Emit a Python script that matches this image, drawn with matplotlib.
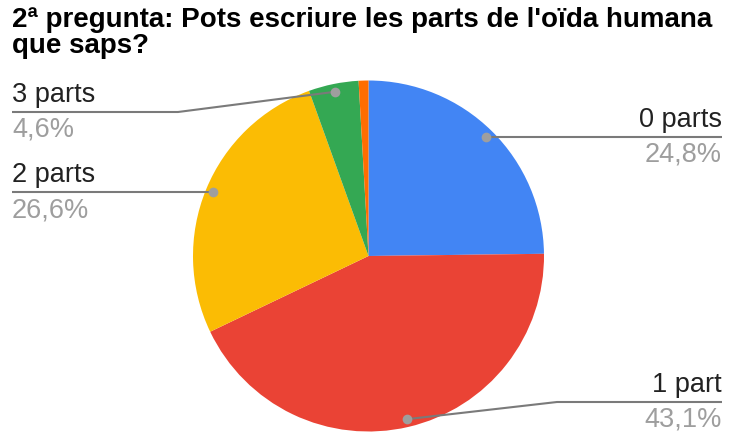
import numpy as np
import matplotlib
matplotlib.use("Agg")
import matplotlib.pyplot as plt

title_lines = ["2ª pregunta: Pots escriure les parts de l'oïda humana", "que saps?"]
categories = ["0 parts", "1 part", "2 parts", "3 parts", "4 parts"]
values = [24.8, 43.1, 26.6, 4.6, 0.9]
colors = ["#4285F4", "#EA4335", "#FBBC04", "#34A853", "#FF6D01"]
labeled = [True, True, True, True, False]

W, H = 729, 432
fig = plt.figure(figsize=(W / 100, H / 100), dpi=100)
ax = fig.add_axes([0, 0, 1, 1])

cx, cy, R = 368.5, H - 256, 175.5
ax.pie(values, colors=colors, startangle=90, counterclock=False,
       center=(cx, cy), radius=R, wedgeprops=dict(linewidth=0))
ax.set_xlim(0, W)
ax.set_ylim(0, H)
ax.set_aspect("equal")
ax.axis("off")

for i, line in enumerate(title_lines):
    fig.text(12 / W, 1 - (27 + 26 * i) / H, line, fontsize=20,
             fontweight="bold", family="Liberation Sans", color="#000000",
             va="baseline", ha="left")

# label layout: (side, line y in px from top, elbow x)
layout = {
    "0 parts": ("right", 138, None),
    "1 part": ("right", 402, 557),
    "2 parts": ("left", 193, None),
    "3 parts": ("left", 112, 178),
}
total = sum(values)
cum = 0.0
for cat, v, lab in zip(categories, values, labeled):
    mid = (cum + v / 2) / total * 2 * np.pi
    cum += v
    if not lab:
        continue
    dx = cx + 0.955 * R * np.sin(mid)
    dy = cy + 0.955 * R * np.cos(mid)
    side, ly, elbow = layout[cat]
    ly = H - ly
    xend = 722 if side == "right" else 12
    if elbow is None:
        xs, ys = [dx, xend], [dy, dy]
        ly = dy
    else:
        xs, ys = [dx, elbow, xend], [dy, ly, ly]
    ax.plot(xs, ys, color="#7a7a7a", lw=1.5, solid_capstyle="butt", zorder=3)
    ax.plot([dx], [dy], "o", color="#9e9e9e", ms=7, mec="none", zorder=4)
    ha = "right" if side == "right" else "left"
    ax.text(xend, ly + 10, cat, fontsize=19.5, family="Liberation Sans",
            color="#222222", ha=ha, va="baseline")
    ax.text(xend, ly - 25, f"{v:.1f}%".replace(".", ","), fontsize=19.5,
            family="Liberation Sans", color="#9e9e9e", ha=ha, va="baseline")

fig.savefig("out.png", dpi=100, facecolor="white")
